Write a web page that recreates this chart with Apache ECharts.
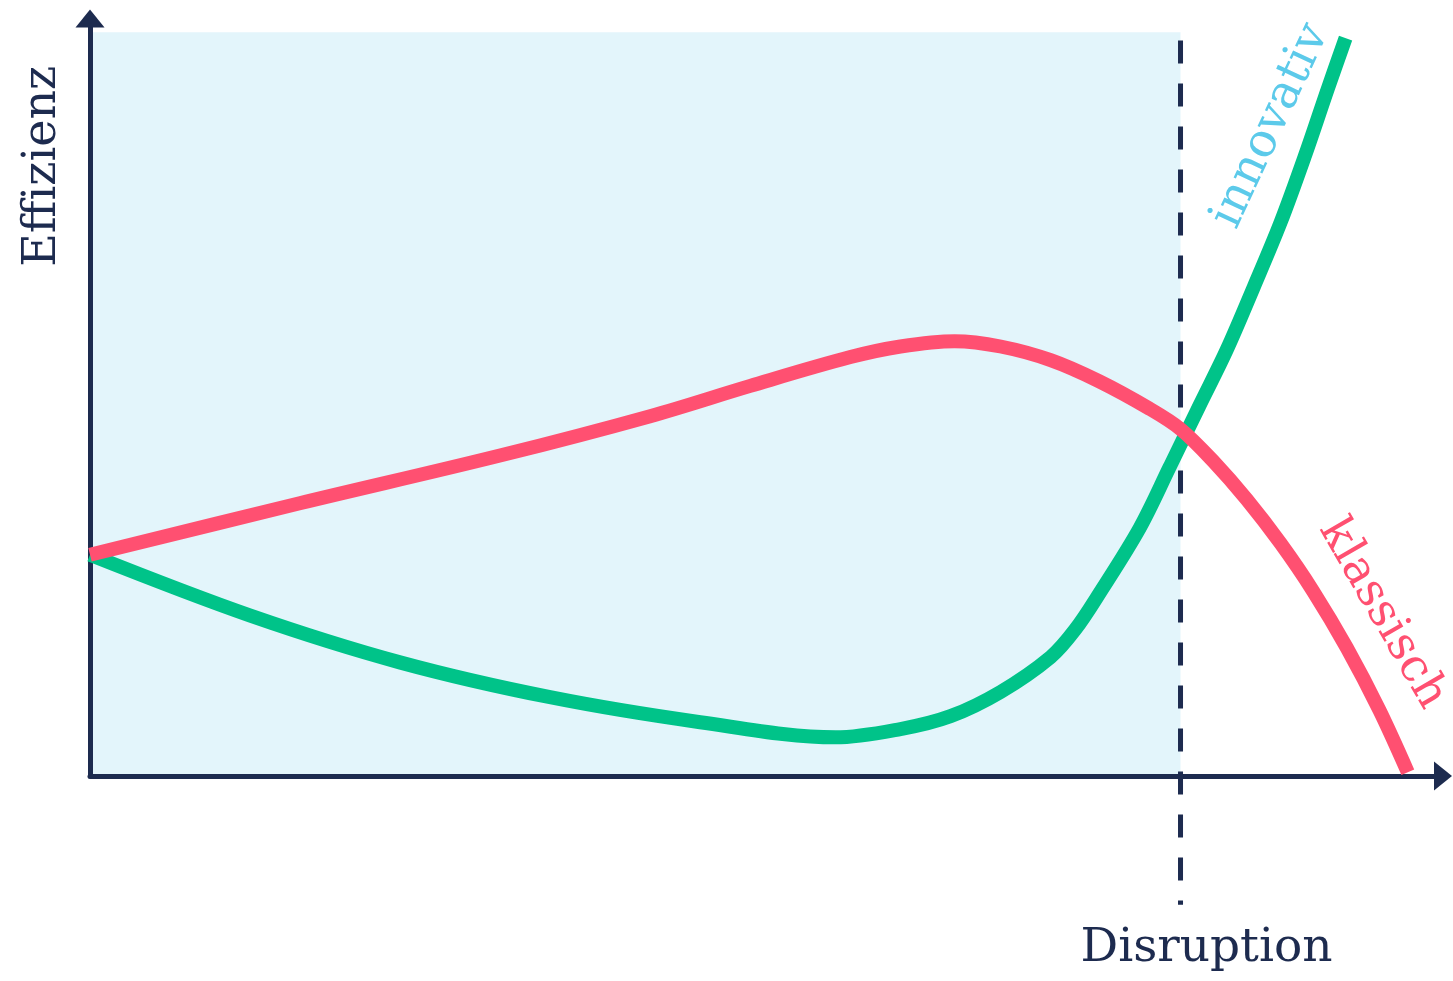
<!DOCTYPE html>
<html>
<head>
<meta charset="utf-8">
<script src="https://cdn.jsdelivr.net/npm/echarts@6/dist/echarts.min.js"></script>
<style>
html,body{margin:0;padding:0;background:#ffffff;}
#chart{width:1453px;height:981px;}
</style>
</head>
<body>
<div id="chart"></div>
<script>
// Curve "klassisch" (red)
var klassischX = [0, 15.5, 30.3, 41.4, 48.8, 56.2, 59.9, 63.9, 67.3, 71.0, 74.6, 78.3, 80.6, 83.0, 85.5, 88.0, 90.4, 92.9, 95.3, 97.4];
var klassischY = [29.2, 36.0, 42.3, 47.5, 51.5, 55.3, 56.7, 57.4, 56.7, 54.9, 52.1, 48.5, 45.8, 41.6, 36.5, 30.7, 24.4, 16.9, 8.7, 0.5];
// Curve "innovativ" (green)
var innovativX = [0, 11.8, 22.9, 34.0, 45.1, 55.1, 59.9, 63.6, 67.3, 71.0, 72.8, 74.6, 77.6, 79.8, 82.0, 84.0, 86.0, 88.0, 89.8, 91.5, 92.8];
var innovativY = [29.2, 21.2, 15.0, 10.4, 7.1, 5.1, 6.2, 7.9, 11.1, 15.7, 19.3, 24.1, 32.8, 40.8, 48.9, 56.2, 64.5, 73.1, 81.9, 90.8, 97.4];
// Disruption marker and shaded region
var disruptionX = 80.6;
var disruptionLine = [97.1, -17.0]; // top, bottom (y values)
var shadeTop = 98.2;
// Texts
var yTitle = 'Effizienz';
var xTitle = 'Disruption';
var labelInnovativ = 'innovativ';
var labelKlassisch = 'klassisch';

var NAVY = '#1d2b4f';
var RED = '#ff5071';
var GREEN = '#00c389';
var LIGHTBLUE = '#5ccaea';
var FONT = 'DejaVu Serif';

function pairs(xs, ys){ return xs.map(function(x,i){ return [x, ys[i]]; }); }

var chart = echarts.init(document.getElementById('chart'), null, {renderer:'canvas'});

var axisCommon = {
  type: 'value', min: 0, max: 100,
  axisLabel: {show:false}, axisTick: {show:false}, splitLine: {show:false},
  z: 1.5
};

chart.setOption({
  animation: false,
  backgroundColor: '#ffffff',
  grid: {left: 90, right: 10, top: 18.5, bottom: 205, containLabel: false},
  xAxis: Object.assign({}, axisCommon, {
    axisLine: {show:true, onZero:false, lineStyle:{color:NAVY, width:5}, symbol:['none','triangle'], symbolSize:[29,18]}
  }),
  yAxis: Object.assign({}, axisCommon, {
    axisLine: {show:true, onZero:false, lineStyle:{color:NAVY, width:5}, symbol:['none','triangle'], symbolSize:[29,18]}
  }),
  series: [
    {
      type: 'line', data: [], silent: true,
      markArea: {
        silent: true,
        itemStyle: {color: '#e3f5fb'},
        data: [[{coord:[0,0]}, {coord:[disruptionX, shadeTop]}]]
      }
    },
    {
      type: 'custom', clip: false, silent: true, z: 2,
      data: [[disruptionX, disruptionLine[0], disruptionLine[1]]],
      encode: {x: 0, y: [1, 2]},
      renderItem: function(params, api){
        var p1 = api.coord([api.value(0), api.value(1)]);
        var p2 = api.coord([api.value(0), api.value(2)]);
        return {type:'line', shape:{x1:p1[0], y1:p1[1], x2:p2[0], y2:p2[1]},
          style:{stroke:NAVY, lineWidth:5, lineDash:[23,20]}};
      }
    },
    {
      type: 'line', name: labelInnovativ, data: pairs(innovativX, innovativY),
      smooth: 0.34, showSymbol: false, z: 3, clip: false,
      lineStyle: {color: GREEN, width: 14}
    },
    {
      type: 'line', name: labelKlassisch, data: pairs(klassischX, klassischY),
      smooth: 0.34, showSymbol: false, z: 4, clip: false,
      lineStyle: {color: RED, width: 14}
    }
  ]
});

var pInnov = chart.convertToPixel({gridIndex:0}, [87.3, 85.8]);
var pKlass = chart.convertToPixel({gridIndex:0}, [95.5, 21.4]);
var pDisr = chart.convertToPixel({gridIndex:0}, [disruptionX, -22.8]);
var pEff = chart.convertToPixel({gridIndex:0}, [-3.5, 80.5]);

chart.setOption({
  graphic: [
    {type:'text', x: pEff[0], y: pEff[1], rotation: Math.PI/2, z: 10,
      style:{text: yTitle, fill: NAVY, font: '46px "' + FONT + '"', align:'center', verticalAlign:'middle'}},
    {type:'text', x: pDisr[0] + 26, y: pDisr[1], z: 10,
      style:{text: xTitle, fill: NAVY, font: '47px "' + FONT + '"', align:'center', verticalAlign:'middle'}},
    {type:'text', x: pInnov[0], y: pInnov[1], rotation: 65*Math.PI/180, z: 10,
      style:{text: labelInnovativ, fill: LIGHTBLUE, font: '47px "' + FONT + '"', align:'center', verticalAlign:'middle'}},
    {type:'text', x: pKlass[0], y: pKlass[1], rotation: -60*Math.PI/180, z: 10,
      style:{text: labelKlassisch, fill: RED, font: '46px "' + FONT + '"', align:'center', verticalAlign:'middle'}}
  ]
});
</script>
</body>
</html>
